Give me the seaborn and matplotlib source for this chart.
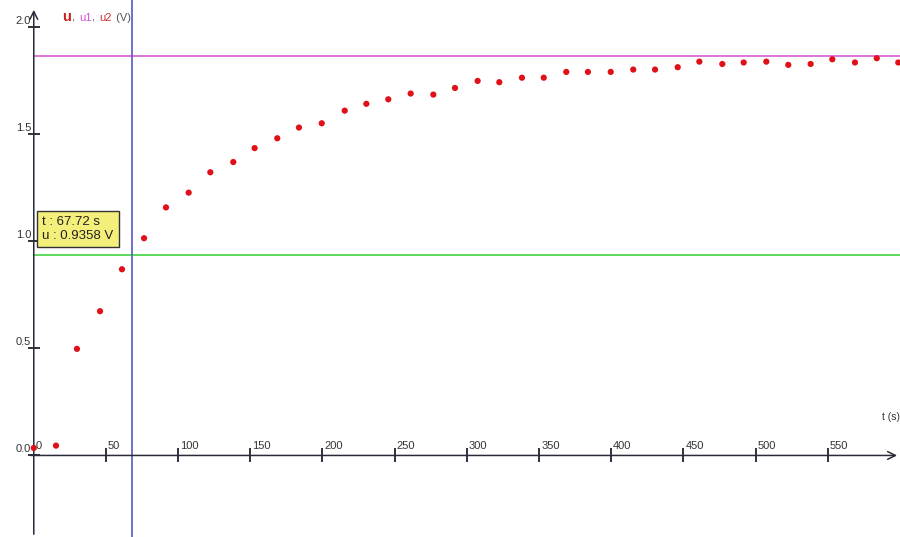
import numpy as np
import pandas as pd
import seaborn as sns
import matplotlib
matplotlib.use('Agg')
import matplotlib.pyplot as plt

t_s = [0.0, 15.4, 29.9, 45.9, 61.1, 76.4, 91.6, 107.3, 122.3, 138.2,
       153.0, 168.7, 183.7, 199.5, 215.4, 230.4, 245.6, 261.1, 276.8, 291.8,
       307.5, 322.5, 338.2, 353.3, 368.9, 383.9, 399.7, 415.3, 430.4, 446.1,
       461.1, 477.0, 491.8, 507.5, 522.7, 538.2, 553.2, 568.9, 584.0, 598.9]
u_V = [0.035, 0.046, 0.498, 0.674, 0.870, 1.015, 1.159, 1.228, 1.323, 1.371,
       1.436, 1.482, 1.532, 1.552, 1.611, 1.643, 1.664, 1.691, 1.686, 1.717,
       1.750, 1.744, 1.765, 1.765, 1.792, 1.792, 1.792, 1.803, 1.803, 1.814,
       1.840, 1.829, 1.836, 1.840, 1.825, 1.829, 1.851, 1.836, 1.856, 1.836]

# cursors
cursor_t = 67.72
cursor_u = 0.9358
u_final = 1.868

x_ticks = [0, 50, 100, 150, 200, 250, 300, 350, 400, 450, 500, 550]
y_ticks = [0.0, 0.5, 1.0, 1.5, 2.0]

df = pd.DataFrame({'t': t_s, 'u': u_V})

sns.set_style('white')
plt.rcParams['font.family'] = ['Liberation Sans', 'DejaVu Sans']

fig = plt.figure(figsize=(9, 5.37), dpi=100)
ax = fig.add_axes([0, 0, 1, 1])
ax.set_xlim(-23.4, 600.1)
ax.set_ylim(-0.381, 2.128)
for s in ax.spines.values():
    s.set_visible(False)
ax.set_xticks([])
ax.set_yticks([])

axis_col = '#2a2a3a'
# axes with arrows
ax.annotate('', xy=(600, 0), xytext=(-4, 0),
            arrowprops=dict(arrowstyle='->', color=axis_col, lw=1.1, mutation_scale=14))
ax.annotate('', xy=(0, 2.095), xytext=(0, -0.381),
            arrowprops=dict(arrowstyle='->', color=axis_col, lw=1.1, mutation_scale=14))

# ticks and labels
for v in x_ticks:
    if v > 0:
        ax.plot([v, v], [0, 0], marker='|', markersize=10, color=axis_col, mew=1.1)
    ax.annotate(str(v), (v, 0), xytext=(1.5, 3), textcoords='offset points',
                ha='left', va='bottom', fontsize=8, color='#333333')
for v in y_ticks:
    ax.plot([0, 0], [v, v], marker='_', markersize=9, color=axis_col, mew=1.1)
    ax.annotate(f'{v:.1f}', (0, v), xytext=(-2, 1), textcoords='offset points',
                ha='right', va='bottom', fontsize=8, color='#333333')

# reference lines
ax.hlines(u_final, 0, 600.1, color='#d45ed4', lw=1.2)
ax.hlines(cursor_u, 0, 600.1, color='#3fd43f', lw=1.2)
ax.axvline(cursor_t, color='#6464c4', lw=1.3)

sns.scatterplot(data=df, x='t', y='u', color='#e01018', s=20,
                edgecolor='none', ax=ax, zorder=5)
ax.set_xlabel('')
ax.set_ylabel('')

# tooltip
ax.text(6.0, 1.118, f't : {cursor_t} s\nu : {cursor_u} V', fontsize=9.5,
        ha='left', va='top', color='#222222', linespacing=1.2,
        bbox=dict(boxstyle='square,pad=0.4', fc='#f4ee7a', ec='#333333', lw=1.0),
        zorder=6)

# axis titles
ax.text(600, 0.155, 't (s)', fontsize=7.5, ha='right', va='bottom', color='#333333')

pieces = [('u', '#d01a1a', 'bold', 10.5), (', ', '#555555', 'normal', 8),
          ('u1', '#d050d0', 'normal', 8), (', ', '#555555', 'normal', 8),
          ('u2', '#c83030', 'normal', 8), (' (V)', '#555555', 'normal', 8)]
fig.canvas.draw()
rend = fig.canvas.get_renderer()
x_px = 62
for txt, col, wt, fs in pieces:
    xd, yd = ax.transData.inverted().transform((x_px, 537 - 21))
    tt = ax.text(xd, yd, txt, color=col, fontweight=wt, fontsize=fs,
                 ha='left', va='baseline')
    x_px += tt.get_window_extent(renderer=rend).width + 1

fig.savefig('out.png', dpi=100)
